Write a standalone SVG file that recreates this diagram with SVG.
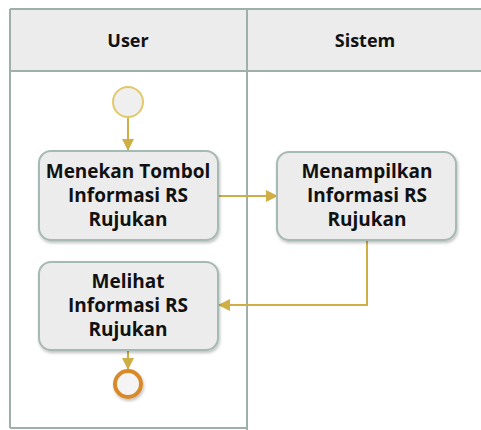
<svg xmlns="http://www.w3.org/2000/svg" width="481" height="430" viewBox="0 0 481 430">
<defs>
<style>
.lane{fill:none;stroke:#9fb0aa;stroke-width:2}
.hdr{fill:#ececec}
.box{fill:#ececec;stroke:#a7b9b4;stroke-width:2}
.t{font-family:"Open Sans","Noto Sans",sans-serif;font-weight:bold;font-size:19px;fill:#111;text-anchor:middle}
.h{font-size:18px}
.c{fill:none;stroke:#cfae45;stroke-width:2}
</style>
<marker id="ah" markerWidth="12" markerHeight="12" refX="11" refY="6" orient="auto" markerUnits="userSpaceOnUse">
<path d="M0,0 L12,6 L0,12 Z" fill="#cfae45"/>
</marker>
<filter id="sh" x="-10%" y="-10%" width="130%" height="130%">
<feDropShadow dx="1" dy="2" stdDeviation="1.5" flood-color="#000" flood-opacity="0.25"/>
</filter>
</defs>
<rect width="481" height="430" fill="#fff"/>
<g id="lanes">
<rect class="hdr" x="10" y="9" width="472" height="62"/>
<path class="lane" d="M10,9 H482 M10,71 H482 M10,9 V428 M247,9 V430 M10,428 H247"/>
<text class="t h" x="128" y="47">User</text>
<text class="t h" x="365" y="47">Sistem</text>
</g>
<g id="connectors">
<path class="c" d="M128,118 V150" marker-end="url(#ah)"/>
<path class="c" d="M218,196 H277" marker-end="url(#ah)"/>
<path class="c" d="M367,240 V305 H219" marker-end="url(#ah)"/>
<path class="c" d="M128,350 V369" marker-end="url(#ah)"/>
</g>
<g id="start">
<circle cx="128" cy="102" r="15" fill="#efefef" stroke="#e2c86a" stroke-width="2"/>
</g>
<g id="n1">
<rect class="box" x="39" y="151" width="179" height="89" rx="12" filter="url(#sh)"/>
<text class="t" x="128" y="178">Menekan Tombol</text>
<text class="t" x="128" y="202">Informasi RS</text>
<text class="t" x="128" y="226">Rujukan</text>
</g>
<g id="n2">
<rect class="box" x="277" y="152" width="179" height="88" rx="12" filter="url(#sh)"/>
<text class="t" x="367" y="178">Menampilkan</text>
<text class="t" x="367" y="202">Informasi RS</text>
<text class="t" x="367" y="226">Rujukan</text>
</g>
<g id="n3">
<rect class="box" x="39" y="262" width="179" height="88" rx="12" filter="url(#sh)"/>
<text class="t" x="128" y="288">Melihat</text>
<text class="t" x="128" y="312">Informasi RS</text>
<text class="t" x="128" y="336">Rujukan</text>
</g>
<g id="end">
<circle cx="128" cy="384" r="13" fill="#f4f4f4" stroke="#d88a2c" stroke-width="4" filter="url(#sh)"/>
</g>
</svg>
